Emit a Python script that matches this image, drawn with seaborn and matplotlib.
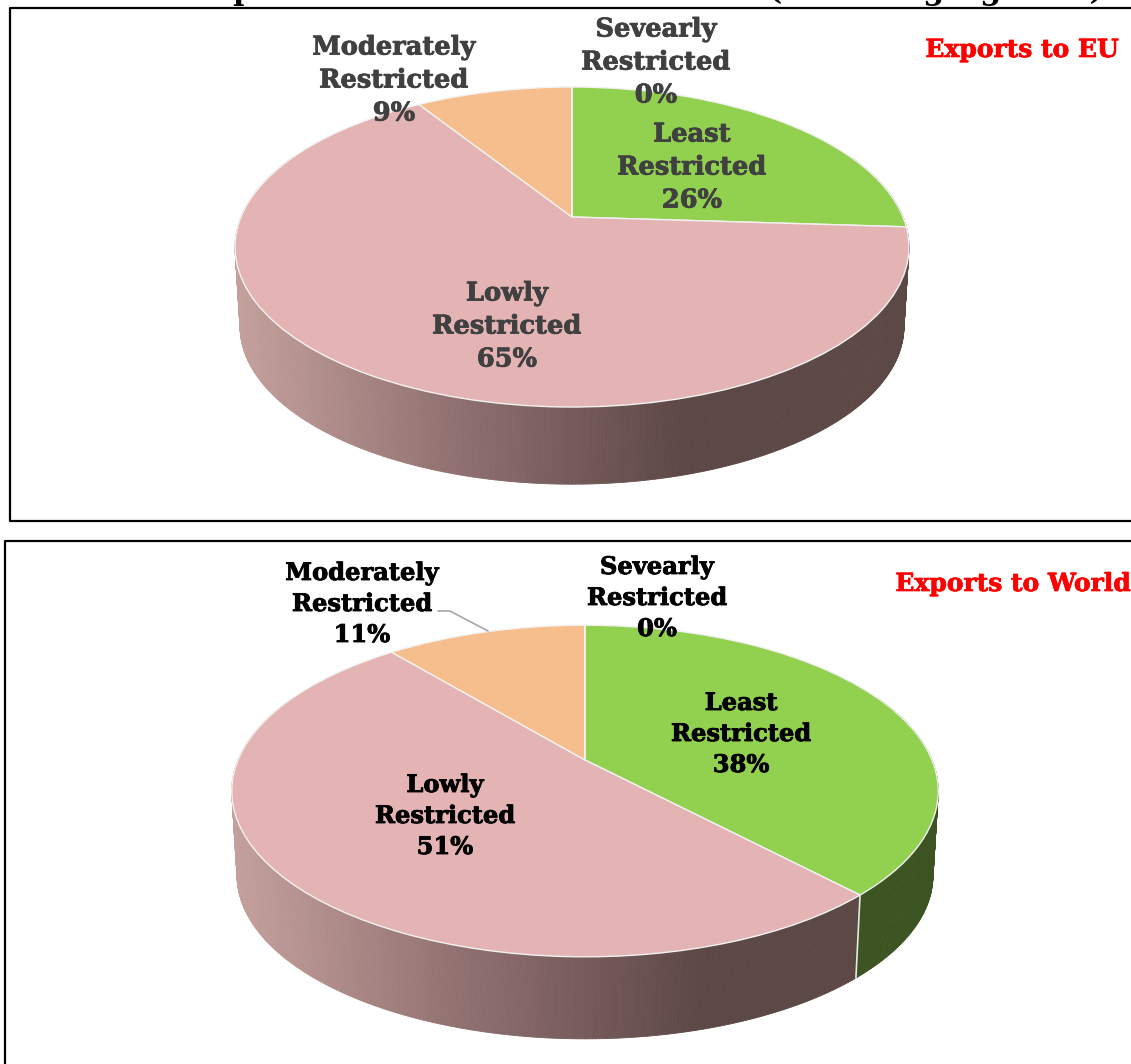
import numpy as np
import matplotlib
matplotlib.use("Agg")
import matplotlib.pyplot as plt
import matplotlib.patheffects as pe
from matplotlib.transforms import Transform
from matplotlib.collections import PolyCollection
import seaborn as sns

# ---- data ----
categories = ["Least Restricted", "Lowly Restricted", "Moderately Restricted", "Severely Restricted"]
label_lines = [["Least", "Restricted"], ["Lowly", "Restricted"], ["Moderately", "Restricted"], ["Sevearly", "Restricted"]]
eu_values = [26, 65, 9, 0]
world_values = [38, 51, 11, 0]
panel_titles = ["Exports to EU", "Exports to World"]
figure_title = "Figure 3: Total Exports of India to EU and World (Price Segregation)"

# ---- styles ----
slice_colors = ["#92d050", "#e4b4b4", "#f6be8c", "#c0504d"]
wall_green = "#3c5421"
wall_pink = sns.blend_palette(["#c4a09c", "#8f6f6f", "#5c4845", "#5c4845"], 120)

sns.set_theme(style="white")
plt.rcParams["font.family"] = ["DejaVu Serif"]
plt.rcParams["font.weight"] = "bold"


class Tilt(Transform):
    """Perspective view of the unit pie onto page pixels."""
    input_dims = output_dims = 2
    has_inverse = False
    is_affine = False

    def __init__(self, cx, cy, a, b, k, scale=1.0, dy=0.0):
        super().__init__()
        self.p = (cx, cy, a, b, k, scale, dy)

    def transform_non_affine(self, values):
        cx, cy, a, b, k, s, dy = self.p
        v = np.asarray(values, dtype=float)
        d = 1 + k * v[:, 1]
        return np.column_stack([cx + s * b * v[:, 0] / d, cy + dy - s * a * v[:, 1] / d])


def wall(ax, values, top, bottom, show_first):
    """Side wall of the pie, coloured by slice, shaded by page position."""
    edges = 90 - 3.6 * np.cumsum([0] + list(values))
    polys, cols = [], []
    ts = np.linspace(-205, 25, 461)
    for t0, t1 in zip(ts[:-1], ts[1:]):
        tm = (t0 + t1) / 2
        uv = np.array([[np.cos(np.radians(t)), np.sin(np.radians(t))] for t in (t0, t1)])
        up = top.transform_non_affine(uv)
        lo = bottom.transform_non_affine(uv)
        polys.append([up[0], up[1], lo[1], lo[0]])
        # which slice this angle belongs to
        idx = 0
        ang = (90 - tm) % 360
        acc = 0
        for i, v in enumerate(values):
            acc += v * 3.6
            if ang <= acc:
                idx = i
                break
        if idx == 0 and show_first:
            cols.append(wall_green)
        else:
            xm = up[:, 0].mean()
            xmin, xmax = top.p[0] - top.p[3] * 1.02, top.p[0] + top.p[3] * 1.02
            cols.append(wall_pink[int(np.clip((xm - xmin) / (xmax - xmin), 0, 0.999) * 120)])
    ax.add_collection(PolyCollection(polys, facecolors=cols, edgecolors=cols, linewidths=0.6, zorder=1))
    # light seam at the slice boundaries on the front
    for e in edges[:-1]:
        s, c = np.sin(np.radians(e)), np.cos(np.radians(e))
        if s < -0.2:
            u = top.transform_non_affine(np.array([[c, s]]))[0]
            l = bottom.transform_non_affine(np.array([[c, s]]))[0]
            ax.plot([u[0], l[0]], [u[1], l[1]], color="#e8e8e8", lw=1.2, zorder=2)


def draw_pie(ax, values, geom, dy, scale, show_first):
    cx, cy, a, b, k = geom
    top = Tilt(cx, cy, a, b, k)
    bottom = Tilt(cx, cy, a, b, k, scale=scale, dy=dy)
    wall(ax, values, top, bottom, show_first)
    wedges, _ = ax.pie(values, colors=slice_colors, startangle=90, counterclock=False,
                       wedgeprops=dict(edgecolor="#f2f2f2", linewidth=1.0))
    for w in wedges:
        w.set_transform(top + ax.transData)
        w.set_zorder(3)


fig = plt.figure(figsize=(11.31, 10.64), dpi=100, facecolor="white")
ax = fig.add_axes([0, 0, 1, 1])

draw_pie(ax, eu_values, (572, 217, 154.4, 331, 0.1875), 80, 0.985, False)
draw_pie(ax, world_values, (585, 760, 160, 347, 0.187), 85, 0.985, True)

ax.set(aspect="auto", xlim=(0, 1131), ylim=(1064, 0), xticks=[], yticks=[])
ax.set_axis_off()

# frames
ax.plot([1131, 10, 10, 1131], [8, 8, 521, 521], color="black", lw=1.6, zorder=5, clip_on=False)
ax.plot([1131, 5, 5], [541, 541, 1064], color="black", lw=1.6, zorder=5)

# page title, cropped by the top of the image
ax.text(-70, -1, figure_title, fontsize=22, color="black", ha="left", va="baseline", zorder=6,
        clip_on=False)


def label(i, vals, x, y, color, step, fs):
    lines = label_lines[i] + [f"{vals[i]}%"]
    for n, line in enumerate(lines):
        ax.text(x, y + n * step, line, ha="center", va="center", fontsize=fs, color=color, zorder=6,
                path_effects=[pe.withStroke(linewidth=0.6, foreground=color)])


top_c = "#404040"
label(0, eu_values, 692, 134, top_c, 33, 18.5)
label(1, eu_values, 507, 293, top_c, 33, 18.5)
label(2, eu_values, 394, 47, top_c, 33, 18.5)
label(3, eu_values, 656, 29, top_c, 33, 18.5)
label(0, world_values, 741, 703, "black", 31, 17.4)
label(1, world_values, 445, 785, "black", 31, 17.4)
label(2, world_values, 362, 573, "black", 31, 17.4)
label(3, world_values, 657, 567, "black", 31, 17.4)

for txt, x, y in zip(panel_titles, [1022, 1013], [50, 584]):
    ax.text(x, y, txt, color="red", fontsize=18, ha="center", va="center", zorder=6,
            path_effects=[pe.withStroke(linewidth=0.5, foreground="red")])

# leader line
ax.plot([438, 450, 488], [611, 611, 631], color="#a6a6a6", lw=1.2, zorder=6)

fig.savefig("out.png", dpi=100)
